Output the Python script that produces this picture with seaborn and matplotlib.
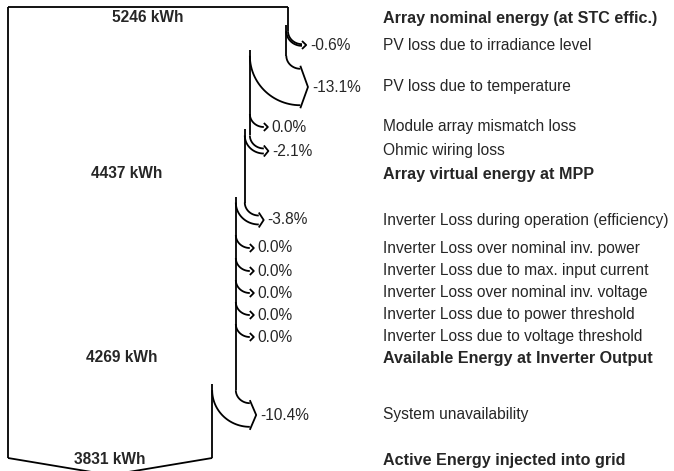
import numpy as np
import matplotlib.pyplot as plt
import seaborn as sns

# Loss diagram data (PVsyst style)
step_labels = [
    "Array nominal energy (at STC effic.)",
    "PV loss due to irradiance level",
    "PV loss due to temperature",
    "Module array mismatch loss",
    "Ohmic wiring loss",
    "Array virtual energy at MPP",
    "Inverter Loss during operation (efficiency)",
    "Inverter Loss over nominal inv. power",
    "Inverter Loss due to max. input current",
    "Inverter Loss over nominal inv. voltage",
    "Inverter Loss due to power threshold",
    "Inverter Loss due to voltage threshold",
    "Available Energy at Inverter Output",
    "System unavailability",
    "Active Energy injected into grid",
]
loss_pct = [None, -0.6, -13.1, 0.0, -2.1, None, -3.8, 0.0, 0.0, 0.0, 0.0, 0.0, None, -10.4, None]
energy_kwh = [5246, None, None, None, None, 4437, None, None, None, None, None, None, 4269, None, 3831]

# layout (pixels, y grows downward)
row_y = [18, 45, 87, 127, 151, 174, 220, 248, 271, 293, 315, 337, 358, 415, 460]
X0, TOP, BOTTOM = 8, 7, 458
scale = 280 / energy_kwh[0]
RX, RY, OVERLAP = 14, 13, 6
LW = 1.3
FS = 11.2

sns.set_theme(style="white")
plt.rcParams['font.family'] = ['Liberation Sans', 'DejaVu Sans']

fig = plt.figure(figsize=(6.74, 4.71), dpi=100)
ax = fig.add_axes([0, 0, 1, 1])
ax.set_xlim(0, 674)
ax.set_ylim(471, 0)
ax.axis('off')


def line(xs, ys):
    ax.plot(xs, ys, color='black', lw=LW, solid_capstyle='butt')


def arc(cx, cy, rx, ry):
    t = np.linspace(0, np.pi / 2, 30)
    line(cx - rx * np.cos(t), cy + ry * np.sin(t))


E = energy_kwh[0]
x_cur = X0 + E * scale
seg_start = TOP
line([X0, x_cur], [TOP, TOP])

for i, lab in enumerate(step_labels):
    yl = row_y[i]
    v = loss_pct[i]
    if v is not None:
        E_new = E * (1 + v / 100)
        x_new = X0 + E_new * scale
        w = x_cur - x_new
        ys = yl - w / 2 - RY
        cx = x_cur + RX
        if w > 0.5:
            line([x_cur, x_cur], [seg_start, ys])
            seg_start = ys - OVERLAP
            arc(cx, ys, RX, RY)
            arc(cx, ys, RX + w, RY + w)
        else:
            arc(cx, ys, RX, RY)
        d = 4 + 0.1 * w
        h = max(w / 2 + 3, 4)
        line([cx, cx + d, cx], [yl - h, yl, yl + h])
        ax.text(cx + d + 4, yl, f"{v:.1f}%", fontsize=FS, va='center', ha='left')
        x_cur = x_new
        E = E_new
    if energy_kwh[i] is not None:
        E = energy_kwh[i]
        ax.text((X0 + x_cur) / 2, yl, f"{energy_kwh[i]} kWh", fontsize=FS,
                fontweight='bold', va='center', ha='center')
    bold = energy_kwh[i] is not None
    ax.text(383, yl, lab, fontsize=FS + 0.4 if bold else FS, va='center', ha='left',
            fontweight='bold' if bold else 'normal')

# right edge down to the bottom, left edge, chevron at the bottom
line([x_cur, x_cur], [seg_start, BOTTOM])
line([X0, X0], [TOP, BOTTOM])
apex_x = (X0 + x_cur) / 2
apex_y = BOTTOM + (x_cur - X0) / 2 * 0.167
line([X0, apex_x, x_cur], [BOTTOM, apex_y, BOTTOM])

fig.savefig("out.png", dpi=100)
